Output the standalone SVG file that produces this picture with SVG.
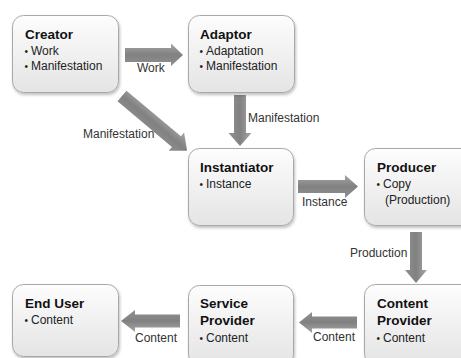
<svg xmlns="http://www.w3.org/2000/svg" width="461" height="358" viewBox="0 0 461 358">
<defs>
<linearGradient id="boxg" x1="0" y1="0" x2="0" y2="1">
<stop offset="0" stop-color="#fdfdfd"/>
<stop offset="1" stop-color="#e4e4e4"/>
</linearGradient>
<linearGradient id="arrg" x1="0" y1="0" x2="0" y2="1">
<stop offset="0" stop-color="#a6a6a6"/>
<stop offset="0.5" stop-color="#818181"/>
<stop offset="1" stop-color="#909090"/>
</linearGradient>
<filter id="sh" x="-10%" y="-10%" width="130%" height="130%">
<feGaussianBlur in="SourceAlpha" stdDeviation="1.5"/>
<feOffset dx="1" dy="1.5"/>
<feComponentTransfer><feFuncA type="linear" slope="0.25"/></feComponentTransfer>
<feMerge><feMergeNode/><feMergeNode in="SourceGraphic"/></feMerge>
</filter>
</defs>
<style>
.box{fill:url(#boxg);stroke:#a8a8a8;stroke-width:1;filter:url(#sh)}
.t{font-family:"Liberation Sans",Arial,sans-serif;font-size:13.5px;font-weight:bold;fill:#111}
.i{font-family:"Liberation Sans",Arial,sans-serif;font-size:12px;fill:#222}
.b{font-family:"Liberation Sans",Arial,sans-serif;font-size:10px;fill:#222}
.l{font-family:"Liberation Sans",Arial,sans-serif;font-size:12px;fill:#333}
.arr{fill:url(#arrg)}
</style>
<rect width="461" height="358" fill="#ffffff"/>

<g id="connectors">
<g id="e-work">
<path class="arr" d="M125,48 L171,48 L171,43.5 L183,55 L171,66 L171,62 L125,62 Z"/>
<text class="l" x="137" y="72">Work</text>
</g>
<g id="e-manif-adaptor">
<path class="arr" transform="translate(240,95) rotate(90)" d="M0,-6 L38,-6 L38,-11.5 L51,0 L38,11.5 L38,6 L0,6 Z"/>
<text class="l" x="248" y="122">Manifestation</text>
</g>
<g id="e-manif-creator">
<path class="arr" transform="translate(122,96) rotate(40)" d="M0,-7 L71,-7 L71,-12 L85,0 L71,12 L71,7 L0,7 Z"/>
<text class="l" x="83" y="138">Manifestation</text>
</g>
<g id="e-instance">
<path class="arr" d="M298,180 L345,180 L345,175 L358,186.5 L345,198 L345,193 L298,193 Z"/>
<text class="l" x="302" y="206">Instance</text>
</g>
<g id="e-production">
<path class="arr" transform="translate(416,232) rotate(90)" d="M0,-6 L38,-6 L38,-11 L51,0 L38,11 L38,6 L0,6 Z"/>
<text class="l" x="350" y="257">Production</text>
</g>
<g id="e-content-cp">
<path class="arr" transform="translate(357,322.5) rotate(180)" d="M0,-6 L45,-6 L45,-10.5 L58,0 L45,10.5 L45,6 L0,6 Z"/>
<text class="l" x="313" y="341">Content</text>
</g>
<g id="e-content-sp">
<path class="arr" transform="translate(180,321) rotate(180)" d="M0,-6.5 L45,-6.5 L45,-11 L59,0 L45,11 L45,6.5 L0,6.5 Z"/>
<text class="l" x="135" y="342">Content</text>
</g>
</g>

<g id="creator">
<rect class="box" x="12.5" y="15.5" width="106" height="77" rx="11"/>
<text class="t" x="25" y="39">Creator</text>
<text class="b" x="24.5" y="54.5">•</text><text class="i" x="31" y="55">Work</text>
<text class="b" x="24.5" y="69.5">•</text><text class="i" x="31" y="70">Manifestation</text>
</g>
<g id="adaptor">
<rect class="box" x="188.5" y="15.5" width="106" height="77" rx="11"/>
<text class="t" x="200" y="39">Adaptor</text>
<text class="b" x="199.5" y="54.5">•</text><text class="i" x="206" y="55">Adaptation</text>
<text class="b" x="199.5" y="69.5">•</text><text class="i" x="206" y="70">Manifestation</text>
</g>
<g id="instantiator">
<rect class="box" x="188.5" y="148.5" width="105" height="77" rx="11"/>
<text class="t" x="200" y="172">Instantiator</text>
<text class="b" x="199.5" y="187.5">•</text><text class="i" x="206" y="188">Instance</text>
</g>
<g id="producer">
<rect class="box" x="364.5" y="148.5" width="110" height="77" rx="11"/>
<text class="t" x="377" y="172">Producer</text>
<text class="b" x="376.5" y="187.5">•</text><text class="i" x="383" y="188">Copy</text>
<text class="i" x="385" y="204">(Production)</text>
</g>
<g id="end-user">
<rect class="box" x="12.5" y="284.5" width="106" height="72" rx="11"/>
<text class="t" x="25" y="308">End User</text>
<text class="b" x="24.5" y="323.5">•</text><text class="i" x="31" y="324">Content</text>
</g>
<g id="service-provider">
<rect class="box" x="188.5" y="285.5" width="105" height="80" rx="11"/>
<text class="t" x="200" y="308">Service</text>
<text class="t" x="200" y="325">Provider</text>
<text class="b" x="199.5" y="341.5">•</text><text class="i" x="206" y="342">Content</text>
</g>
<g id="content-provider">
<rect class="box" x="364.5" y="284.5" width="110" height="80" rx="11"/>
<text class="t" x="377" y="308">Content</text>
<text class="t" x="377" y="325">Provider</text>
<text class="b" x="376.5" y="341.5">•</text><text class="i" x="383" y="342">Content</text>
</g>
</svg>
